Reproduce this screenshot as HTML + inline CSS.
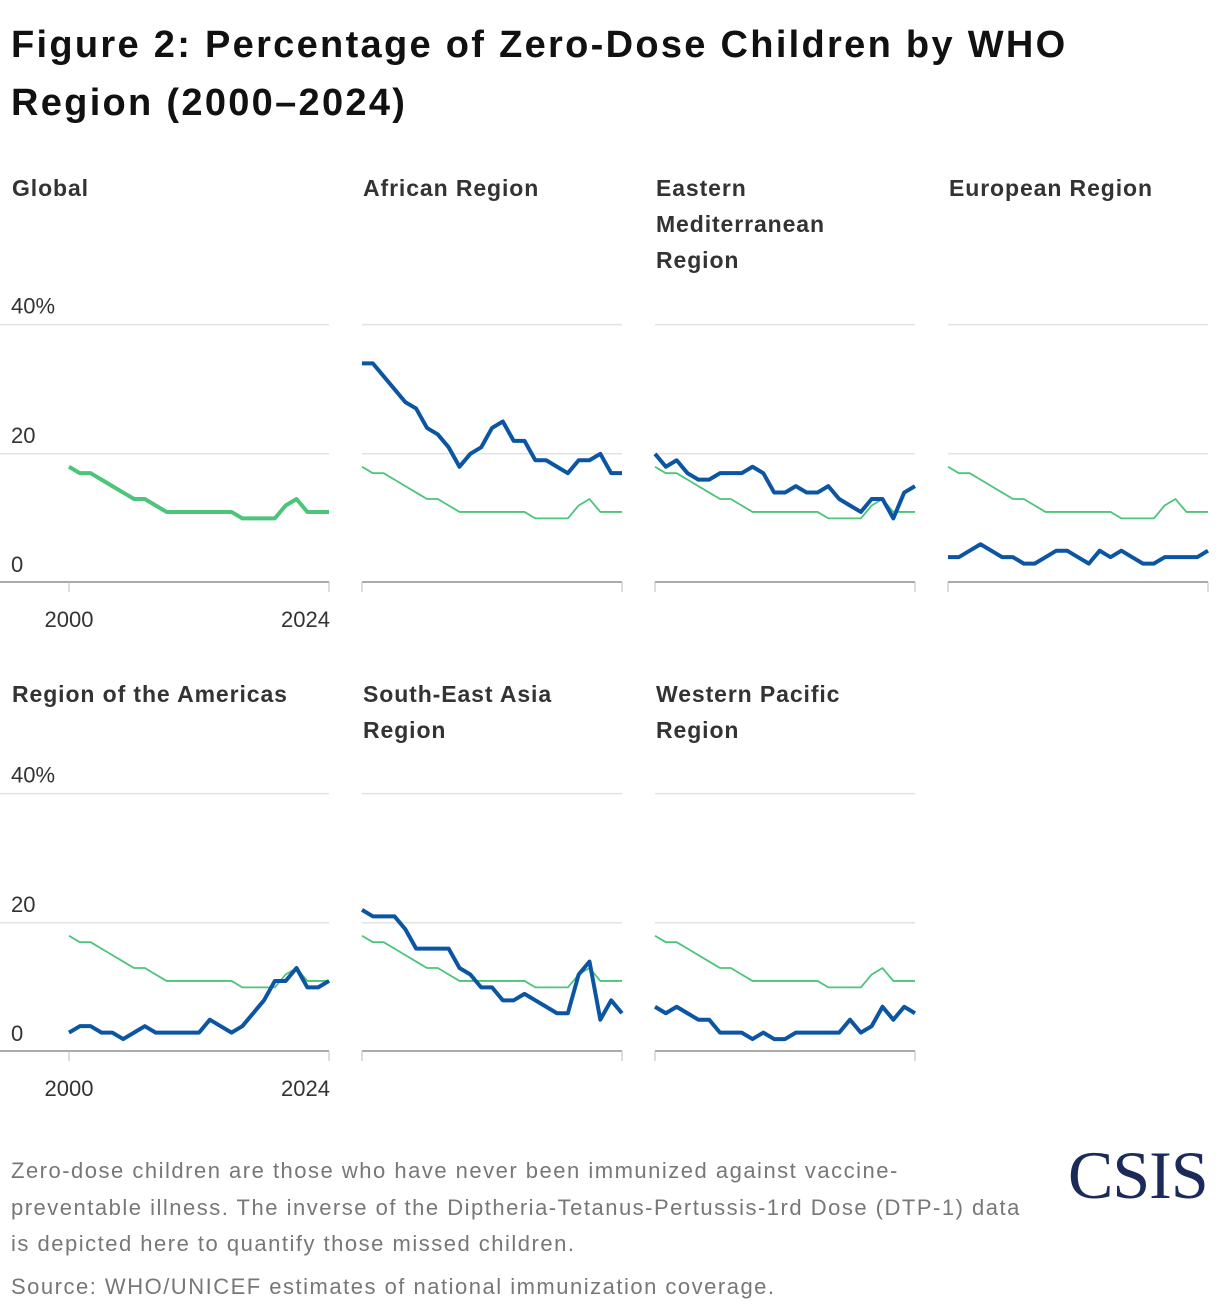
<!DOCTYPE html>
<html><head><meta charset="utf-8">
<style>
body{margin:0;background:#fff;width:1220px;height:1316px;overflow:hidden;font-family:"Liberation Sans",sans-serif;position:relative}
h1{position:absolute;left:11px;top:16px;margin:0;font-size:38px;line-height:58px;color:#111;font-weight:bold;letter-spacing:2.3px}
.pt{position:absolute;font-size:23px;line-height:36px;font-weight:bold;color:#333;letter-spacing:0.9px}
.note{position:absolute;left:11px;top:1153px;font-size:22px;line-height:36.5px;color:#777;letter-spacing:1.5px;white-space:nowrap}
.src{position:absolute;left:11px;top:1274px;font-size:22px;color:#777;letter-spacing:1.5px}
.logo{position:absolute;left:1068px;top:1136px;font-family:"Liberation Serif",serif;font-size:68px;color:#1a2b5a;letter-spacing:-1px}
svg{position:absolute;left:0;top:0}
</style></head><body>
<h1>Figure 2: Percentage of Zero-Dose Children by WHO<br>Region (2000–2024)</h1>
<div class="pt" style="left:12px;top:170px">Global</div>
<div class="pt" style="left:363px;top:170px">African Region</div>
<div class="pt" style="left:656px;top:170px">Eastern<br>Mediterranean<br>Region</div>
<div class="pt" style="left:949px;top:170px">European Region</div>
<div class="pt" style="left:12px;top:676px">Region of the Americas</div>
<div class="pt" style="left:363px;top:676px">South-East Asia<br>Region</div>
<div class="pt" style="left:656px;top:676px">Western Pacific<br>Region</div>
<div class="note">Zero-dose children are those who have never been immunized against vaccine-<br>preventable illness. The inverse of the Diptheria-Tetanus-Pertussis-1rd Dose (DTP-1) data<br>is depicted here to quantify those missed children.</div>
<div class="src">Source: WHO/UNICEF estimates of national immunization coverage.</div>
<div class="logo">CSIS</div>
<svg id="c" width="1220" height="1316"></svg>
<script>
const years=[2000,2024];
const yTicks=[0,20,40];
const global=[18,17,17,16,15,14,13,13,12,11,11,11,11,11,11,11,10,10,10,10,12,13,11,11,11];
const african=[34,34,32,30,28,27,24,23,21,18,20,21,24,25,22,22,19,19,18,17,19,19,20,17,17];
const easternMed=[20,18,19,17,16,16,17,17,17,18,17,14,14,15,14,14,15,13,12,11,13,13,10,14,15];
const european=[4,4,5,6,5,4,4,3,3,4,5,5,4,3,5,4,5,4,3,3,4,4,4,4,5];
const americas=[3,4,4,3,3,2,3,4,3,3,3,3,3,5,4,3,4,6,8,11,11,13,10,10,11];
const seAsia=[22,21,21,21,19,16,16,16,16,13,12,10,10,8,8,9,8,7,6,6,12,14,5,8,6];
const westernPacific=[7,6,7,6,5,5,3,3,3,2,3,2,2,3,3,3,3,3,5,3,4,7,5,7,6];

const svg=document.getElementById('c');
const NS='http://www.w3.org/2000/svg';
function mk(t,a){const e=document.createElementNS(NS,t);for(const k in a)e.setAttribute(k,a[k]);svg.appendChild(e);return e;}
const panels=[
 {name:'global',d:global,x0:69,y0:583,labels:true},
 {name:'african',d:african,x0:362,y0:583},
 {name:'eastern-med',d:easternMed,x0:655,y0:583},
 {name:'european',d:european,x0:948,y0:583},
 {name:'americas',d:americas,x0:69,y0:1052,labels:true},
 {name:'se-asia',d:seAsia,x0:362,y0:1052},
 {name:'western-pacific',d:westernPacific,x0:655,y0:1052}
];
const W=260,PXPCT=6.46;
panels.forEach(p=>{
  const X=i=>p.x0+i*W/(global.length-1);
  const Y=v=>p.y0-v*PXPCT;
  yTicks.forEach(t=>{
    if(t>0){const l=mk('line',{x1:p.labels?0:p.x0,x2:p.x0+W,y1:Y(t),y2:Y(t),stroke:'#e3e3e3','stroke-width':1.5});
      }
    if(p.labels){const tx=mk('text',{x:11,y:Y(t)-11,'font-size':22,fill:'#333','font-family':'Liberation Sans, sans-serif'});
      tx.textContent=t===40?'40%':String(t);
      }
  });
  const ax=mk('line',{x1:p.labels?0:p.x0,x2:p.x0+W,y1:p.y0-1,y2:p.y0-1,stroke:'#aaa','stroke-width':2});
  
  [p.x0,p.x0+W].forEach(x=>{const t=mk('line',{x1:x,x2:x,y1:p.y0-1,y2:p.y0+9,stroke:'#bbb','stroke-width':1});
    });
  if(p.labels){years.forEach((yr,i)=>{const t=mk('text',{x:i?p.x0+W+1:p.x0,y:p.y0+44,'font-size':22,fill:'#333','text-anchor':i?'end':'middle','font-family':'Liberation Sans, sans-serif'});
    t.textContent=yr;});}
  const gpts=global.map((v,i)=>X(i)+','+Y(v)).join(' ');
  const isG=p.name==='global';
  const g=mk('polyline',{points:gpts,fill:'none',stroke:'#4cc47a','stroke-width':isG?4:1.8,'stroke-linejoin':'round'});
  
  if(!isG){
    const pts=p.d.map((v,i)=>X(i)+','+Y(v)).join(' ');
    const l=mk('polyline',{points:pts,fill:'none',stroke:'#0b55a3','stroke-width':4,'stroke-linejoin':'round'});
    
  }
});
</script>
</body></html>
